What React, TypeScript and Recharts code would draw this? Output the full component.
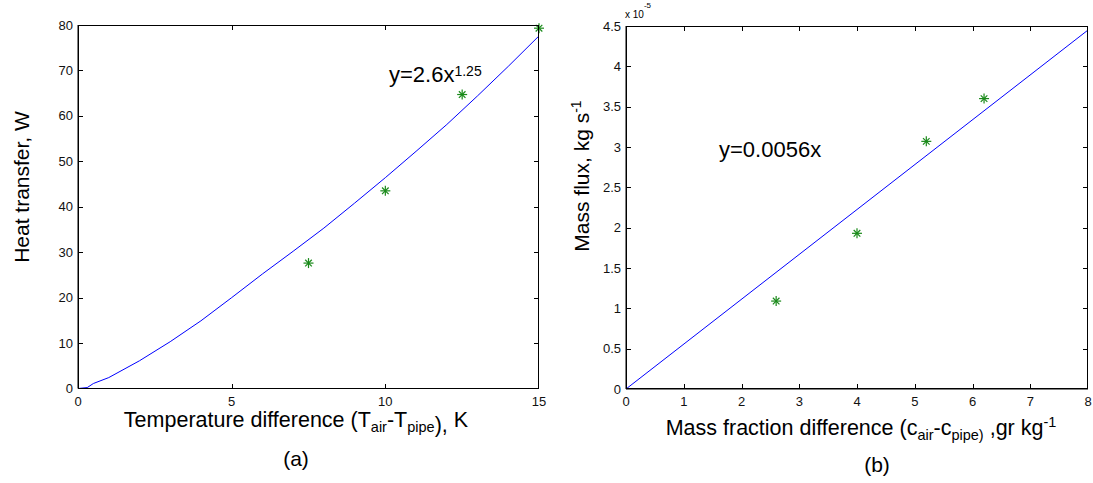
import React from 'react';
import { ScatterChart, Scatter, XAxis, YAxis } from 'recharts';

// (a) heat transfer vs temperature difference
const tempDiffMeasured = [7.5, 10, 12.5, 15];
const heatMeasured = [27.6, 43.5, 64.7, 79.3];
const tempDiffFit = [0, 0.3, 0.5, 1, 2, 3, 4, 5, 6, 7, 8, 9, 10, 11, 12, 13, 14, 15];
const heatFit = [0, 0.2, 1.1, 2.4, 6.1, 10.3, 14.9, 20.0, 25.2, 30.2, 35.3, 40.8, 46.4, 52.2, 58.1, 64.4, 70.9, 77.6];
const tempTicks = [0, 5, 10, 15];
const heatTicks = [0, 10, 20, 30, 40, 50, 60, 70, 80];

// (b) mass flux (x 10^-5) vs mass fraction difference
const massFracMeasured = [2.6, 4.0, 5.2, 6.2];
const massFluxMeasured = [1.09, 1.93, 3.07, 3.6];
const massFracFit = [0, 8];
const massFluxFit = [0, 4.45];
const fracTicks = [0, 1, 2, 3, 4, 5, 6, 7, 8];
const fluxTicks = [0, 0.5, 1, 1.5, 2, 2.5, 3, 3.5, 4, 4.5];

const FONT = '"Liberation Sans", Arial, Helvetica, sans-serif';
const TICK = 5;
const AXIS = '#000000';
const CHART_H = 483;
const X_AXIS_H = 30;
const Y_AXIS_W = 30;

const toPoints = (xs: number[], ys: number[]) => xs.map((x, i) => ({ x, y: ys[i] }));

const Asterisk = (props: any) => {
  const { cx, cy } = props;
  const r = 5;
  const d = 3.3;
  return (
    <g stroke="#1a8a1a" strokeWidth={1.2}>
      <line x1={cx - r} y1={cy} x2={cx + r} y2={cy} />
      <line x1={cx} y1={cy - r} x2={cx} y2={cy + r} />
      <line x1={cx - d} y1={cy - d} x2={cx + d} y2={cy + d} />
      <line x1={cx - d} y1={cy + d} x2={cx + d} y2={cy - d} />
    </g>
  );
};

const NoDot = () => <g />;

const tickStyle = { fontSize: 13, fill: '#111', fontFamily: FONT };

// plot box of a panel, derived from the same layout numbers handed to the chart
const plotBox = (offsetX: number, width: number, margin: any) => ({
  left: offsetX + margin.left + Y_AXIS_W,
  top: margin.top,
  w: width - margin.left - margin.right - Y_AXIS_W,
  h: CHART_H - margin.top - margin.bottom - X_AXIS_H,
});

// box outline as a plain bordered div, tick marks as thin divs (inward on all four sides)
const Frame = ({ box, xDomain, yDomain, xTicks, yTicks }: any) => {
  const px = (v: number) => ((v - xDomain[0]) / (xDomain[1] - xDomain[0])) * box.w;
  const py = (v: number) => box.h - ((v - yDomain[0]) / (yDomain[1] - yDomain[0])) * box.h;
  const mark = (key: string, l: number, t: number, w: number, h: number) => (
    <div key={key} style={{ position: 'absolute', left: l, top: t, width: w, height: h, background: AXIS }} />
  );
  return (
    <div style={{
      position: 'absolute', left: box.left, top: box.top, width: box.w, height: box.h,
      boxSizing: 'border-box', pointerEvents: 'none',
    }}>
      {mark('top', 0, 0, box.w, 1)}
      {mark('right', box.w - 1, 0, 1, box.h)}
      {mark('bottom', 0, box.h - 1, box.w, 1)}
      {mark('left', 0, 0, 1, box.h)}
      {xTicks.map((t: number) => [
        mark('xb' + t, Math.min(px(t), box.w - 1), box.h - TICK, 1, TICK),
        mark('xt' + t, Math.min(px(t), box.w - 1), 0, 1, TICK),
      ])}
      {yTicks.map((t: number) => [
        mark('yl' + t, 0, Math.min(py(t), box.h - 1), TICK, 1),
        mark('yr' + t, box.w - TICK, Math.min(py(t), box.h - 1), TICK, 1),
      ])}
    </div>
  );
};

const Panel = ({ width, margin, xDomain, yDomain, xTicks, yTicks, measured, fit }: any) => (
  <ScatterChart width={width} height={CHART_H} margin={margin}>
    <XAxis dataKey="x" type="number" domain={xDomain} ticks={xTicks} height={X_AXIS_H}
      tickSize={0} tickMargin={8} tickLine={false} axisLine={{ stroke: AXIS }} interval={0} tick={tickStyle} />
    <YAxis dataKey="y" type="number" domain={yDomain} ticks={yTicks} width={Y_AXIS_W}
      tickSize={0} tickMargin={5} tickLine={false} axisLine={{ stroke: AXIS }} interval={0} tick={tickStyle} />
    <Scatter data={fit} line={{ stroke: '#0000ff', strokeWidth: 1 }} lineType="joint"
      shape={<NoDot />} isAnimationActive={false} />
    <Scatter data={measured} shape={<Asterisk />} isAnimationActive={false} />
  </ScatterChart>
);

const leftPanel = { x: 0, width: 560, margin: { top: 25, right: 21, bottom: 64.5, left: 48 } };
const rightPanel = { x: 560, width: 533, margin: { top: 26, right: 5, bottom: 64, left: 36 } };

export default function App() {
  return (
    <div style={{ position: 'absolute', left: 0, top: 0, width: 1093, height: 483, background: '#fff' }}>
      <div style={{ position: 'absolute', left: leftPanel.x, top: 0 }}>
        <Panel width={leftPanel.width} margin={leftPanel.margin}
          xDomain={[0, 15]} yDomain={[0, 80]} xTicks={tempTicks} yTicks={heatTicks}
          measured={toPoints(tempDiffMeasured, heatMeasured)} fit={toPoints(tempDiffFit, heatFit)} />
      </div>
      <div style={{ position: 'absolute', left: rightPanel.x, top: 0 }}>
        <Panel width={rightPanel.width} margin={rightPanel.margin}
          xDomain={[0, 8]} yDomain={[0, 4.5]} xTicks={fracTicks} yTicks={fluxTicks}
          measured={toPoints(massFracMeasured, massFluxMeasured)} fit={toPoints(massFracFit, massFluxFit)} />
      </div>
      <Frame box={plotBox(leftPanel.x, leftPanel.width, leftPanel.margin)}
        xDomain={[0, 15]} yDomain={[0, 80]} xTicks={tempTicks} yTicks={heatTicks} />
      <Frame box={plotBox(rightPanel.x, rightPanel.width, rightPanel.margin)}
        xDomain={[0, 8]} yDomain={[0, 4.5]} xTicks={fracTicks} yTicks={fluxTicks} />
      <svg width={1093} height={483} style={{ position: 'absolute', left: 0, top: 0, pointerEvents: 'none' }}
        fontFamily={FONT}>
        <g fill="#000">
          <text x={296} y={427} textAnchor="middle" fontSize={21.5}>
            Temperature difference (T<tspan fontSize={14.5} dy={5}>air</tspan>
            <tspan dy={-5}>-T</tspan><tspan fontSize={14.5} dy={5}>pipe</tspan>
            <tspan>), </tspan><tspan dy={-5}>K</tspan>
          </text>
          <text x={296} y={466} textAnchor="middle" fontSize={21}>(a)</text>
          <text transform="translate(29,187) rotate(-90)" textAnchor="middle" fontSize={21}>Heat transfer, W</text>
          <text x={389} y={82} fontSize={22}>
            y=2.6x<tspan fontSize={14} dy={-6}>1.25</tspan>
          </text>

          <text x={861} y={435} textAnchor="middle" fontSize={21.5}>
            Mass fraction difference (c<tspan fontSize={14.5} dy={5}>air</tspan>
            <tspan dy={-5}>-c</tspan><tspan fontSize={14.5} dy={5}>pipe)</tspan>
            <tspan dy={-5}> ,gr kg</tspan><tspan fontSize={14.5} dy={-8}>-1</tspan>
          </text>
          <text x={877} y={472} textAnchor="middle" fontSize={21}>(b)</text>
          <text transform="translate(589,176) rotate(-90)" textAnchor="middle" fontSize={21}>
            Mass flux, kg s<tspan fontSize={14} dy={-8}>-1</tspan>
          </text>
          <text x={719} y={157} fontSize={22}>y=0.0056x</text>
          <text x={625} y={18} fontSize={10}>
            x 10<tspan fontSize={8} dy={-10}>-5</tspan>
          </text>
        </g>
      </svg>
    </div>
  );
}
